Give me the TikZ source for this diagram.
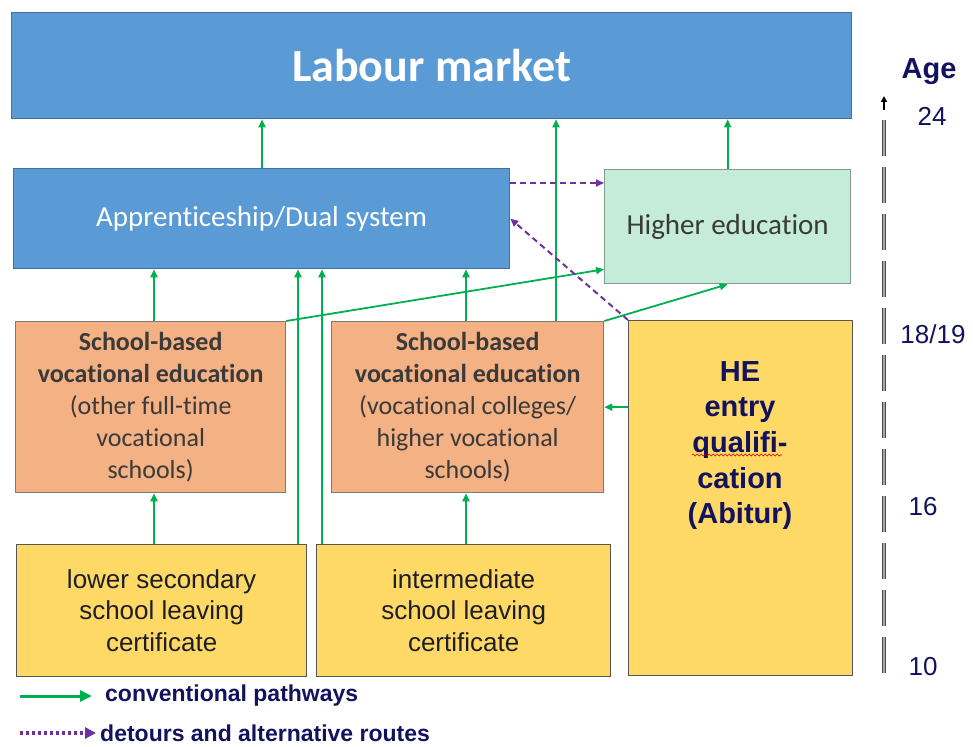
\documentclass[tikz,border=0pt]{standalone}
\usepackage{fontspec}
\setmainfont{Carlito}[Ligatures={NoCommon}]
\newfontfamily\arialf{Liberation Sans}
\usetikzlibrary{arrows.meta,decorations.pathmorphing,calc}
\definecolor{lmblue}{HTML}{5B9BD5}
\definecolor{lmedge}{HTML}{41719C}
\definecolor{hefill}{HTML}{C4ECD9}
\definecolor{heedge}{HTML}{849C90}
\definecolor{sbfill}{HTML}{F4B183}
\definecolor{sbedge}{HTML}{7A7A7A}
\definecolor{yfill}{HTML}{FFD966}
\definecolor{yedge}{HTML}{555555}
\definecolor{pgreen}{HTML}{00B050}
\definecolor{ppurple}{HTML}{7030A0}
\definecolor{navy}{HTML}{12125E}
\definecolor{dtext}{HTML}{3A3A3A}
\definecolor{btext}{HTML}{1E1E2A}
\begin{document}
\begin{tikzpicture}[x=1pt,y=-1pt,
  box/.style={draw, line width=1.3pt, rectangle, anchor=north west, inner sep=0pt, align=center},
  garrow/.style={draw=pgreen, line width=1.8pt, -{Triangle[length=8pt,width=7pt]}},
  parrow/.style={draw=ppurple, line width=2pt, dash pattern=on 6pt off 4pt, -{Triangle[length=8pt,width=7pt]}},
  agelab/.style={text=navy, font=\arialf\fontsize{26}{30}\selectfont, inner sep=0pt}
]
\useasboundingbox (0,0) rectangle (973,746);

% boxes
\node[box, fill=lmblue, draw=lmedge, minimum width=840pt, minimum height=106pt, text=white,
  font=\fontsize{46}{52}\selectfont\bfseries] (lm) at (11,12) {Labour market};
\node[box, fill=lmblue, draw=lmedge, minimum width=496pt, minimum height=100pt, text=white,
  font=\fontsize{29}{34}\selectfont] (app) at (13,168) {Apprenticeship/Dual system};
\node[box, fill=hefill, draw=heedge, minimum width=246pt, minimum height=114pt, text=dtext,
  font=\fontsize{29}{34}\selectfont] (he) at (604,169) {Higher education};
\node[box, fill=sbfill, draw=sbedge, minimum width=270pt, minimum height=171pt, text=dtext,
  font=\fontsize{26}{32}\selectfont] (sbl) at (15,321)
  {\textbf{School-based}\\\textbf{vocational education}\\(other full-time\\vocational\\schools)};
\node[box, fill=sbfill, draw=sbedge, minimum width=272pt, minimum height=171pt, text=dtext,
  font=\fontsize{26}{32}\selectfont] (sbm) at (331,321)
  {\textbf{School-based}\\\textbf{vocational education}\\(vocational colleges/\\higher vocational\\schools)};
\node[box, fill=yfill, draw=yedge, minimum width=224pt, minimum height=355pt] (abi) at (628,320) {};
\node[anchor=north, inner sep=0pt, align=center, text=navy,
  font=\arialf\bfseries\fontsize{29}{35.7}\selectfont] (abitxt) at (740,361)
  {HE\\entry\\qualifi-\\cation\\(Abitur)};
\node[box, fill=yfill, draw=yedge, minimum width=290pt, minimum height=132pt, text=btext,
  font=\arialf\fontsize{26}{31.5}\selectfont] (low) at (16,544)
  {lower secondary\\school leaving\\certificate};
\node[box, fill=yfill, draw=yedge, minimum width=294pt, minimum height=132pt, text=btext,
  font=\arialf\fontsize{26}{31.5}\selectfont] (int) at (316,544)
  {intermediate\\school leaving\\certificate};

% spell-check squiggle
\draw[red!80!black, line width=0.6pt, decorate, decoration={snake, amplitude=1pt, segment length=4pt}]
  (692,455) -- (782,455);

% column coordinates
\coordinate (c154) at (154,0);
\coordinate (c262) at (262,0);
\coordinate (c298) at (298,0);
\coordinate (c322) at (322,0);
\coordinate (c466) at (466,0);
\coordinate (c556) at (556,0);
\coordinate (r183) at (0,183);

% green arrows
\draw[garrow] (app.north -| c262) -- (lm.south -| c262);
\draw[garrow] (sbm.north -| c556) -- (lm.south -| c556);
\draw[garrow] (he.north) -- (lm.south -| he.north);
\draw[garrow] (sbl.north -| c154) -- (app.south -| c154);
\draw[garrow] (sbm.north -| c466) -- (app.south -| c466);
\draw[garrow] (low.north -| c154) -- (sbl.south -| c154);
\draw[garrow] (int.north -| c466) -- (sbm.south -| c466);
\draw[garrow] (low.north -| c298) -- (app.south -| c298);
\draw[garrow] (int.north -| c322) -- (app.south -| c322);
\draw[garrow] (sbl.north east) -- (he.west |- app.south);
\draw[garrow] (sbm.north east) -- (he.south);
\draw[garrow] (abi.west |- sbm.east) -- (sbm.east);

% purple dashed
\draw[parrow] (app.east |- r183) -- (he.west |- r183);
\draw[parrow] (abi.north west) -- (app.east);

% age axis
\coordinate (axb) at (884,673);
\coordinate (axm) at (884,110);
\coordinate (axt) at (884,96);
\draw[draw=black!70, line width=1.1pt, double=black!35, double distance=1.6pt,
  dash pattern=on 36pt off 11pt] (axb) -- (axm);
\draw[black, line width=1.6pt, -{Triangle[length=6pt,width=6pt]}] (axm) -- (axt);
\node[text=navy, font=\arialf\bfseries\fontsize{29}{34}\selectfont, inner sep=0pt] (age) at (929,72) {Age};
\node[agelab] (a24) at (932,116) {24};
\node[agelab] (a18) at (933,334) {18/19};
\node[agelab] (a16) at (923,507) {16};
\node[agelab] (a10) at (923,667) {10};

% legend
\node[anchor=west, inner sep=0pt, text=navy, font=\arialf\bfseries\fontsize{23}{27}\selectfont] (lg1) at (105,696) {conventional pathways};
\node[anchor=west, inner sep=0pt, text=navy, font=\arialf\bfseries\fontsize{23}{27}\selectfont] (lg2) at (100,733) {detours and alternative routes};
\coordinate (lg1s) at (20,696);
\coordinate (lg2s) at (20,733);
\draw[draw=pgreen, line width=3pt, -{Triangle[length=12pt,width=11pt]}] (lg1s) -- ($(lg1.west)+(-13,0)$);
\draw[draw=ppurple, line width=3.5pt, dash pattern=on 3pt off 3pt, -{Triangle[length=11pt,width=11pt]}] (lg2s) -- ($(lg2.west)+(-4,0)$);
\end{tikzpicture}
\end{document}
